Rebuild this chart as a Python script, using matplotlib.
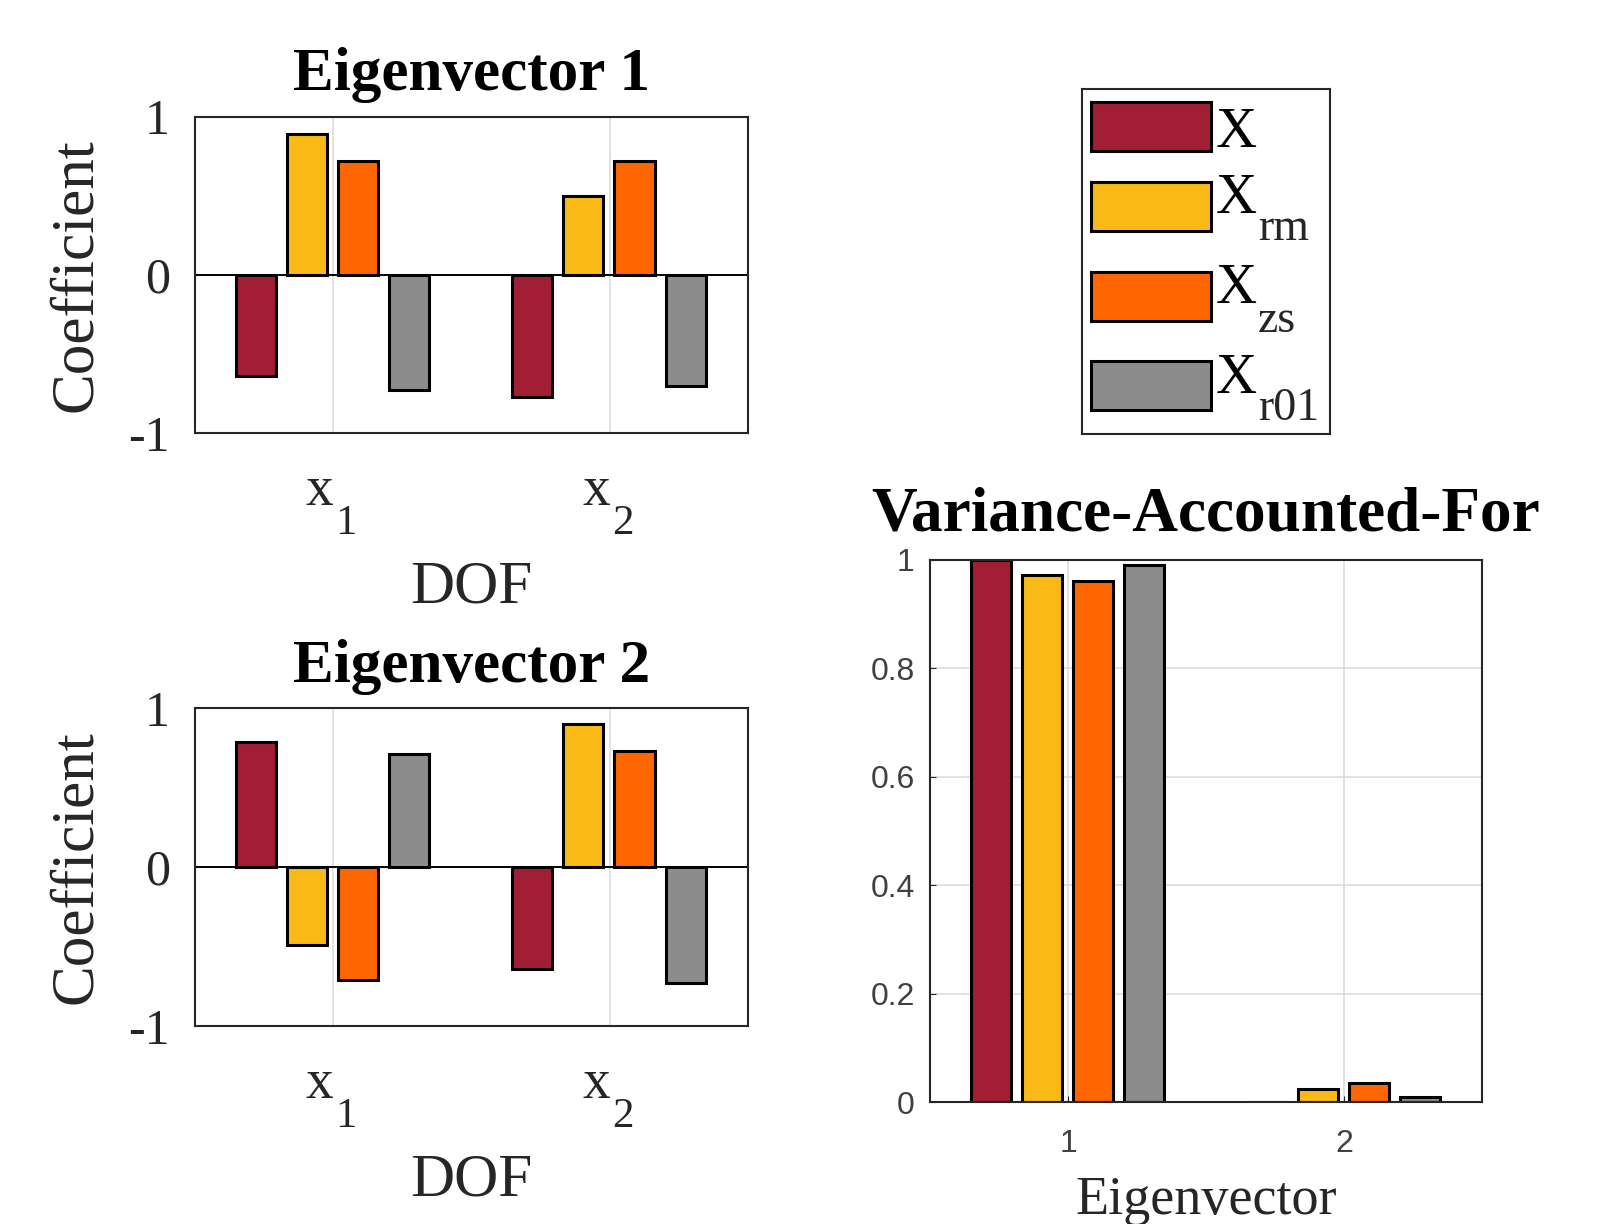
import matplotlib
matplotlib.use('Agg')
import matplotlib.pyplot as plt
import matplotlib.patches as mpatches
import numpy as np

plt.rcParams['font.family'] = 'Liberation Serif'

series_main = ['X', 'X', 'X', 'X']
series_sub = ['', 'rm', 'zs', 'r01']
colors = ['#A21E34', '#F9BA17', '#FF6600', '#8C8C8C']

dof = [1, 2]
dof_main = ['x', 'x']
dof_sub = ['1', '2']

# eigenvector coefficients, [x1, x2]
ev1_X = [-0.64, -0.77]
ev1_rm = [0.89, 0.50]
ev1_zs = [0.72, 0.72]
ev1_r01 = [-0.73, -0.70]

ev2_X = [0.79, -0.64]
ev2_rm = [-0.49, 0.90]
ev2_zs = [-0.71, 0.73]
ev2_r01 = [0.71, -0.73]

# variance accounted for, [eig 1, eig 2]
eig = [1, 2]
vaf_X = [1.0, 0.0]
vaf_rm = [0.973, 0.025]
vaf_zs = [0.962, 0.036]
vaf_r01 = [0.990, 0.010]

spine_c = '#262626'
grid_c = '#DADADA'

# grouped bar layout (4 bars per group)
offs = (np.arange(4) - 1.5) * 0.185 - 0.003
bw = 0.1455


def bars(ax, x, data):
    x = np.array(x, dtype=float)
    for i, vals in enumerate(data):
        ax.bar(x + offs[i], vals, width=bw, color=colors[i], edgecolor='black',
               linewidth=2.2, zorder=3)


def style(ax):
    for s in ax.spines.values():
        s.set_linewidth(1.5)
        s.set_color(spine_c)
        s.set_zorder(5)
    ax.set_axisbelow(True)


fig = plt.figure(figsize=(16.17, 12.24), dpi=100)

ax1 = fig.add_axes([0.1206, 0.6462, 0.342, 0.2586])
ax2 = fig.add_axes([0.1206, 0.1618, 0.342, 0.2594])
ax3 = fig.add_axes([0.5752, 0.0993, 0.3413, 0.4432])

for ax, data, ttl in [(ax1, [ev1_X, ev1_rm, ev1_zs, ev1_r01], 'Eigenvector 1'),
                      (ax2, [ev2_X, ev2_rm, ev2_zs, ev2_r01], 'Eigenvector 2')]:
    bars(ax, dof, data)
    ax.axhline(0, color='black', lw=1.4, zorder=4)
    ax.set_xlim(0.5, 2.5)
    ax.set_ylim(-1, 1)
    ax.set_xticks(dof)
    ax.set_xticklabels([])
    # tick labels with a low-hanging subscript, like the original
    for d, m, s in zip(dof, dof_main, dof_sub):
        ax.annotate(m, xy=(d, 0), xycoords=('data', 'axes fraction'),
                    xytext=(0, -52), textcoords='offset points',
                    ha='right', va='baseline', fontsize=40, color=spine_c)
        ax.annotate(s, xy=(d, 0), xycoords=('data', 'axes fraction'),
                    xytext=(1.5, -73), textcoords='offset points',
                    ha='left', va='baseline', fontsize=31, color=spine_c)
    ax.set_yticks([-1, 0, 1])
    ax.set_yticklabels(['-1', '0', '1'], fontsize=36, color=spine_c)
    ax.tick_params(axis='x', direction='in', length=0)
    ax.tick_params(axis='y', direction='in', length=0, pad=18)
    ax.grid(axis='x', color=grid_c, lw=1.1)
    ax.set_title(ttl, fontsize=44, fontweight='bold', pad=19)
    ax.set_xlabel('DOF', fontsize=44, color=spine_c)
    ax.xaxis.set_label_coords(0.5, -0.40)
    ax.set_ylabel('Coefficient', fontsize=44, color=spine_c)
    ax.yaxis.set_label_coords(-0.165, 0.5)
    style(ax)

bars(ax3, eig, [vaf_X, vaf_rm, vaf_zs, vaf_r01])
ax3.set_xlim(0.5, 2.5)
ax3.set_ylim(0, 1)
ax3.set_xticks(eig)
ax3.set_xticklabels(['1', '2'], fontsize=23, family='Liberation Sans', color='#404040')
ax3.set_yticks([0, 0.2, 0.4, 0.6, 0.8, 1])
ax3.set_yticklabels(['0', '0.2', '0.4', '0.6', '0.8', '1'], fontsize=23,
                    family='Liberation Sans', color='#404040')
ax3.tick_params(axis='x', direction='in', length=4, pad=19, color=spine_c)
ax3.tick_params(axis='y', direction='in', length=4, pad=11, color=spine_c)
ax3.grid(True, color=grid_c, lw=1.1)
ax3.set_title('Variance-Accounted-For', fontsize=45.5, fontweight='bold', pad=21)
ax3.set_xlabel('Eigenvector', fontsize=39, color=spine_c)
ax3.xaxis.set_label_coords(0.5, -0.135)
style(ax3)

# legend box, laid out in pixel units inside its own frame
lax = fig.add_axes([0.669, 0.6454, 0.1533, 0.2819])
lax.set_xlim(0, 248)
lax.set_ylim(345, 0)
lax.set_xticks([])
lax.set_yticks([])
for s in lax.spines.values():
    s.set_linewidth(1.5)
    s.set_color(spine_c)
row_top = [13, 93, 183, 272]
main_base = [58, 124, 214, 304]
sub_base = [151, 151, 243, 331]
for i in range(4):
    lax.add_patch(mpatches.Rectangle((9.5, row_top[i]), 120, 49, facecolor=colors[i],
                                     edgecolor='black', linewidth=2.2))
    lax.text(134, main_base[i], series_main[i], fontsize=41, va='baseline', ha='left',
             color='black')
    if series_sub[i]:
        lax.text(176, sub_base[i], series_sub[i], fontsize=33, va='baseline', ha='left',
                 color=spine_c)

fig.savefig('out.png', dpi=100)
